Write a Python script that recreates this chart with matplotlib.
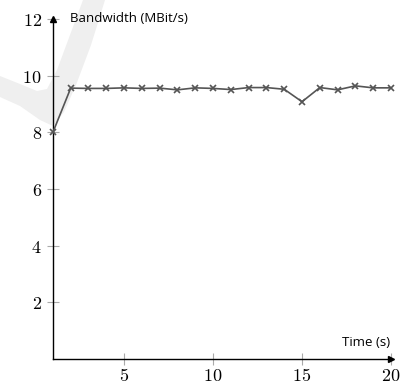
import matplotlib
matplotlib.use('Agg')
import matplotlib.pyplot as plt
from matplotlib.patches import Polygon
import numpy as np

# bandwidth over time
time_s = [1, 2, 3, 4, 5, 6, 7, 8, 9, 10, 11, 12, 13, 14, 15, 16, 17, 18, 19, 20]
bandwidth = [8.0, 9.56, 9.55, 9.55, 9.57, 9.55, 9.56, 9.50, 9.57, 9.55, 9.51, 9.58,
             9.58, 9.52, 9.08, 9.58, 9.50, 9.64, 9.57, 9.57]
xticks = [5, 10, 15, 20]
yticks = [2, 4, 6, 8, 10, 12]

plt.rcParams['mathtext.fontset'] = 'cm'

fig = plt.figure(figsize=(4.03, 3.85), dpi=100)

# faint watermark swoosh in the background (pixel coords)
W, H = 403.0, 385.0
swoosh = [(83, 0), (105, 0), (91, 45), (76, 85), (64, 112), (53, 126), (40, 120),
          (20, 106), (0, 97), (0, 76), (20, 84), (37, 91), (47, 89), (57, 70), (70, 35)]
fig.patches.append(Polygon([(x / W, 1 - y / H) for x, y in swoosh], closed=True,
                           transform=fig.transFigure, facecolor='#efefef',
                           edgecolor='none', zorder=-5))

ax = fig.add_axes([52.9 / W, 1 - 359 / H, (391 - 52.9) / W, 340 / H])
ax.set_zorder(2)
ax.patch.set_alpha(0)

ax.plot(time_s, bandwidth, color='#555555', lw=1.2, marker='x', ms=5, mew=1.2, clip_on=False, zorder=3)

ax.set_xlim(1, 20)
ax.set_ylim(0, 12)
ax.spines['top'].set_visible(False)
ax.spines['right'].set_visible(False)
for s in ['left', 'bottom']:
    ax.spines[s].set_color('black')
    ax.spines[s].set_linewidth(1.0)

# arrow heads on the axes
ax.plot(1, 1, marker='^', color='black', ms=4.5, transform=ax.get_xaxis_transform(), clip_on=False)
ax.plot(1, 0, marker='>', color='black', ms=4.5, transform=ax.get_yaxis_transform(), clip_on=False)

ax.set_xticks(xticks)
ax.set_xticklabels(['$%d$' % t for t in xticks])
ax.set_yticks(yticks)
ax.set_yticklabels(['$%d$' % t for t in yticks])
ax.tick_params(direction='inout', length=8, width=0.8, color='#aaaaaa', labelsize=13, pad=2)
ax.tick_params(axis='y', pad=4)

ax.text(70 / W, 1 - 19 / H, 'Bandwidth (MBit/s)', transform=fig.transFigure, family='Open Sans',
        fontsize=9.5, va='center', ha='left')
ax.text(390 / W, 1 - 342 / H, 'Time (s)', transform=fig.transFigure, family='Open Sans',
        fontsize=9.5, va='center', ha='right')

plt.savefig('out.png', dpi=100)
